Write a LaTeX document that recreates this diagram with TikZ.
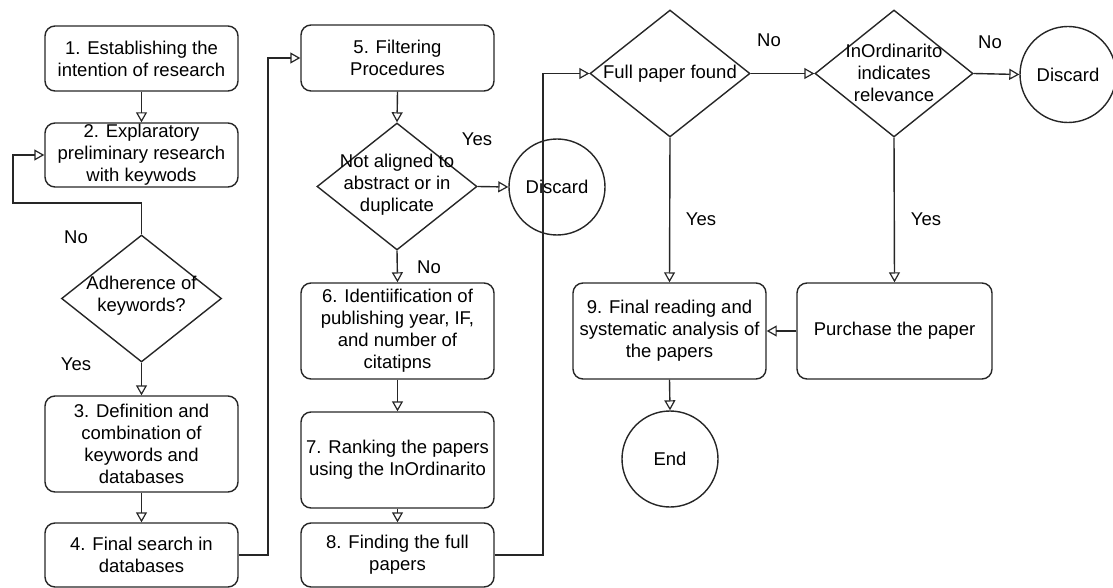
\documentclass[tikz,border=0pt]{standalone}
\usepackage{fontspec}
\setmainfont{Liberation Sans}
\usetikzlibrary{arrows.meta,shapes.geometric}
\begin{document}
\begin{tikzpicture}[x=1pt,y=-1pt,
  every node/.style={font=\fontsize{18.5}{22}\selectfont, text=black},
  line/.style={draw=black!85, line width=1.4pt},
  arr/.style={line, -{Triangle[open,length=10pt,width=11pt,line width=1.2pt]}},
  box/.style={line, rounded corners=10pt, minimum width=193pt, inner sep=0pt, align=center},
  dia/.style={line, diamond, inner sep=0pt},
  circ/.style={line, circle, minimum size=96pt, inner sep=0pt},
  lbl/.style={inner sep=0pt}]
\useasboundingbox (0,0) rectangle (1113,588);

% column 1
\node[box, minimum height=65pt] (b1) at (141.5,58.5) {1. Establishing the\\intention of research};
\node[box, minimum height=64pt] (b2) at (141.5,155) {2. Explaratory\\preliminary research\\with keywods};
\node[dia, minimum width=160pt, minimum height=127pt] (d1) at (141.5,298.5) {};
\node[lbl, align=center] (d1t) at (141.5,296) {Adherence of\\keywords?};
\node[box, minimum height=96pt] (b3) at (141.5,444) {3. Definition and\\combination of\\keywords and\\databases};
\node[box, minimum height=64pt] (b4) at (141.5,555) {4. Final search in\\databases};

% column 2
\node[box, minimum height=66pt] (b5) at (397.5,58) {5. Filtering\\Procedures};
\node[dia, minimum width=160pt, minimum height=127pt] (d2) at (397,186.5) {};
\node[lbl, align=center] (d2t) at (397,185) {Not aligned to\\abstract or in\\duplicate};
\node[circ] (disc1) at (557,187) {Discard};
\node[box, minimum height=96pt] (b6) at (397.5,331) {6. Identiification of\\publishing year, IF,\\and number of\\citatipns};
\node[box, minimum height=96pt] (b7) at (397.5,460) {7. Ranking the papers\\using the InOrdinarito};
\node[box, minimum height=64pt] (b8) at (397.5,555) {8. Finding the full\\papers};

% right part
\node[dia, minimum width=160pt, minimum height=127pt] (d3) at (670,73.5) {};
\node[lbl] (d3t) at (670,73.5) {Full paper found};
\node[dia, minimum width=158pt, minimum height=127pt] (d4) at (894,73.5) {};
\node[lbl, align=center] (d4t) at (894,73) {InOrdinarito\\indicates\\relevance};
\node[circ] (disc2) at (1068,74.5) {Discard};
\node[box, minimum height=96pt] (b9) at (669.5,331) {9. Final reading and\\systematic analysis of\\the papers};
\node[box, minimum width=195pt, minimum height=96pt] (b10) at (894.5,331) {Purchase the paper};
\node[circ] (end) at (670,459) {End};

% labels
\node[lbl] (n1) at (76,237) {No};
\node[lbl] (y1) at (76,364) {Yes};
\node[lbl] (y2) at (477,139) {Yes};
\node[lbl] (n2) at (429,267) {No};
\node[lbl] (n3) at (769,40) {No};
\node[lbl] (n4) at (990,42) {No};
\node[lbl] (y3) at (701,219) {Yes};
\node[lbl] (y4) at (926,219) {Yes};

% connectors
\coordinate (l1) at (13,203);
\coordinate (c1) at (268,58);
\coordinate (c2) at (543,73.5);
\draw[arr] (b1.south) -- (b2.north);
\draw[arr] (d1.north) |- (l1) |- (b2.west);
\draw[arr] (d1.south) -- (b3.north);
\draw[arr] (b3.south) -- (b4.north);
\draw[arr] (b4.east) -| (c1) -- (b5.west);
\draw[arr] (b5.south) -- (d2.north);
\draw[arr] (d2.east) -- (disc1.west);
\draw[arr] (d2.south) -- (b6.north);
\draw[arr] (b6.south) -- (b7.north);
\draw[arr] (b7.south) -- (b8.north);
\draw[arr] (b8.east) -| (c2) -- (d3.west);
\draw[arr] (d3.east) -- (d4.west);
\draw[arr] (d4.east) -- (disc2.west);
\draw[arr] (d3.south) -- (b9.north);
\draw[arr] (d4.south) -- (b10.north);
\draw[arr] (b10.west) -- (b9.east);
\draw[arr] (b9.south) -- (end.north);
\end{tikzpicture}
\end{document}
